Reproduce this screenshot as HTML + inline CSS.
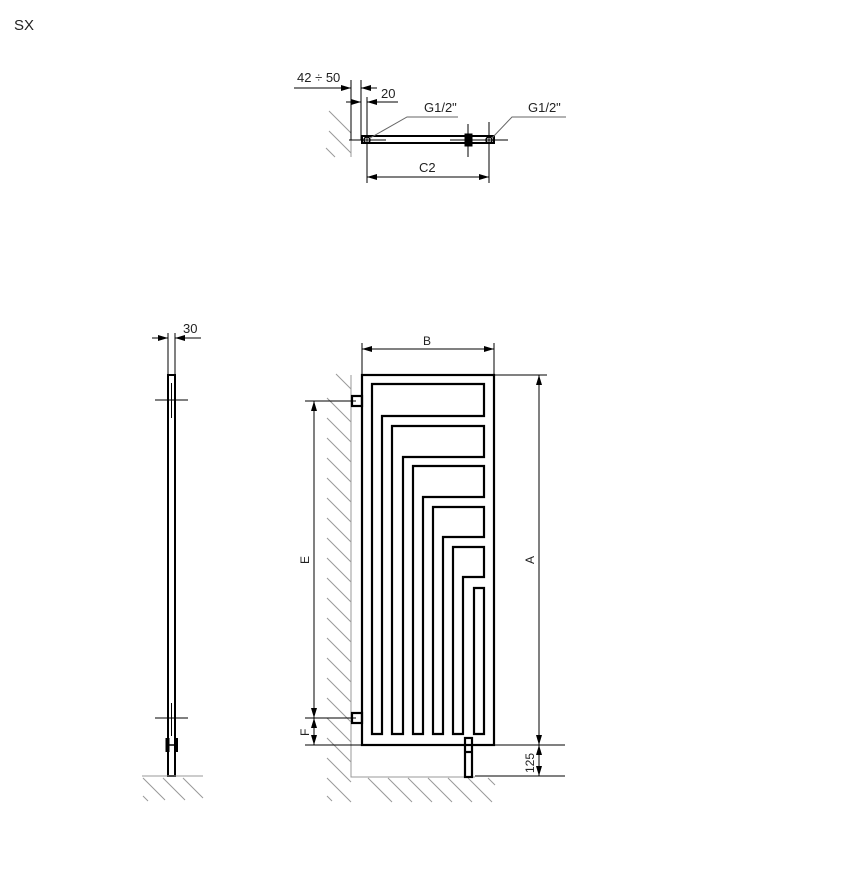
<!DOCTYPE html>
<html><head><meta charset="utf-8"><style>
html,body{margin:0;padding:0;background:#fff;}
svg{display:block;font-family:"Liberation Sans",sans-serif;}
</style></head><body>
<svg width="851" height="880" viewBox="0 0 851 880" xmlns="http://www.w3.org/2000/svg">
<defs>
<marker id="ar" markerWidth="10" markerHeight="6" refX="10" refY="3" orient="auto-start-reverse" markerUnits="userSpaceOnUse"><path d="M0,0 L10,3 L0,6 z" fill="#000"/></marker>
</defs>
<text x="14" y="30" font-size="15" fill="#222">SX</text>

<!-- TOP VIEW -->
<g stroke="#999" stroke-width="1" fill="none">
<line x1="351" y1="125" x2="351" y2="157"/>
<line x1="329" y1="111" x2="351" y2="133"/>
<line x1="329" y1="131" x2="351" y2="153"/>
<line x1="326" y1="148" x2="335" y2="157"/>
</g>
<g stroke="#000" fill="none">
<rect x="362" y="136" width="132" height="7" stroke-width="2"/>
<line x1="349" y1="140" x2="386" y2="140" stroke-width="1"/>
<line x1="450" y1="140" x2="508" y2="140" stroke-width="1"/>
<circle cx="367" cy="140" r="3" stroke-width="1.5"/>
<circle cx="489" cy="140" r="3" stroke-width="1.5"/>
<rect x="465" y="134" width="7" height="12" fill="#000"/>
<line x1="468" y1="124" x2="468" y2="157" stroke-width="1"/>
<line x1="489" y1="122" x2="489" y2="183" stroke-width="1"/>
<line x1="367" y1="97" x2="367" y2="183" stroke-width="1"/>
<line x1="351" y1="80" x2="351" y2="140" stroke-width="1"/>
<line x1="361" y1="80" x2="361" y2="140" stroke-width="1"/>
<line x1="294" y1="88" x2="351" y2="88" stroke-width="1" marker-end="url(#ar)"/>
<line x1="377" y1="88" x2="361" y2="88" stroke-width="1" marker-end="url(#ar)"/>
<line x1="346" y1="102" x2="361" y2="102" stroke-width="1" marker-end="url(#ar)"/>
<line x1="398" y1="102" x2="367" y2="102" stroke-width="1" marker-end="url(#ar)"/>
<line x1="367" y1="177" x2="489" y2="177" stroke-width="1" marker-start="url(#ar)" marker-end="url(#ar)"/>
</g>
<g stroke="#666" stroke-width="1" fill="none">
<polyline points="370,138 407,117 458,117"/>
<polyline points="492,138 512,117 566,117"/>
</g>
<g font-size="13" fill="#222">
<text x="297" y="82">42 ÷ 50</text>
<text x="381" y="98">20</text>
<text x="424" y="112">G1/2"</text>
<text x="528" y="112">G1/2"</text>
<text x="419" y="172">C2</text>
</g>

<!-- SIDE VIEW -->
<g stroke="#000" fill="none">
<line x1="168" y1="333" x2="168" y2="375" stroke-width="1"/>
<line x1="175" y1="333" x2="175" y2="375" stroke-width="1"/>
<line x1="152" y1="338" x2="168" y2="338" stroke-width="1" marker-end="url(#ar)"/>
<line x1="201" y1="338" x2="175" y2="338" stroke-width="1" marker-end="url(#ar)"/>
<rect x="168" y="375" width="7" height="401" stroke-width="2"/>
<line x1="171.5" y1="383" x2="171.5" y2="418" stroke-width="1"/>
<line x1="171.5" y1="703" x2="171.5" y2="736" stroke-width="1"/>
<line x1="155" y1="400" x2="188" y2="400" stroke-width="1"/>
<line x1="155" y1="718" x2="188" y2="718" stroke-width="1"/>
<rect x="165.5" y="738" width="4" height="14" fill="#000" stroke="none"/>
<rect x="174" y="738" width="4" height="14" fill="#000" stroke="none"/>
<line x1="168" y1="745" x2="175" y2="745" stroke-width="1.5"/>
</g>
<text x="183" y="333" font-size="13" fill="#222">30</text>
<g stroke="#999" stroke-width="1">
<line x1="142" y1="776" x2="203" y2="776"/>
<line x1="143" y1="778" x2="165" y2="800"/>
<line x1="163" y1="778" x2="185" y2="800"/>
<line x1="183" y1="778" x2="203" y2="798"/>
<line x1="143" y1="796" x2="148" y2="801"/>
</g>

<!-- FRONT VIEW: wall/floor -->
<g stroke="#999" stroke-width="1" fill="none">
<polyline points="351,375 351,777 475,777"/>
<line x1="336" y1="374" x2="351" y2="389"/>
<line x1="327" y1="398" x2="351" y2="422"/>
<line x1="327" y1="418" x2="351" y2="442"/>
<line x1="327" y1="438" x2="351" y2="462"/>
<line x1="327" y1="458" x2="351" y2="482"/>
<line x1="327" y1="478" x2="351" y2="502"/>
<line x1="327" y1="498" x2="351" y2="522"/>
<line x1="327" y1="518" x2="351" y2="542"/>
<line x1="327" y1="538" x2="351" y2="562"/>
<line x1="327" y1="558" x2="351" y2="582"/>
<line x1="327" y1="578" x2="351" y2="602"/>
<line x1="327" y1="598" x2="351" y2="622"/>
<line x1="327" y1="618" x2="351" y2="642"/>
<line x1="327" y1="638" x2="351" y2="662"/>
<line x1="327" y1="658" x2="351" y2="682"/>
<line x1="327" y1="678" x2="351" y2="702"/>
<line x1="327" y1="698" x2="351" y2="722"/>
<line x1="327" y1="718" x2="351" y2="742"/>
<line x1="327" y1="738" x2="351" y2="762"/>
<line x1="327" y1="758" x2="351" y2="782"/>
<line x1="327" y1="778" x2="351" y2="802"/>
<line x1="327" y1="796" x2="332" y2="801"/>
<line x1="368" y1="778" x2="392" y2="802"/>
<line x1="388" y1="778" x2="412" y2="802"/>
<line x1="408" y1="778" x2="432" y2="802"/>
<line x1="428" y1="778" x2="452" y2="802"/>
<line x1="448" y1="778" x2="472" y2="802"/>
<line x1="468" y1="778" x2="492" y2="802"/>
<line x1="488" y1="778" x2="495" y2="785"/>
</g>

<!-- radiator -->
<g stroke="#000" stroke-width="2.2" fill="none">
<rect x="362" y="375" width="132" height="370"/>
<polygon points="372,734 372,384 484,384 484,416 382,416 382,734"/>
<polygon points="392,734 392,426 484,426 484,457 403,457 403,734"/>
<polygon points="413,734 413,466 484,466 484,497 423,497 423,734"/>
<polygon points="433,734 433,507 484,507 484,537 443,537 443,734"/>
<polygon points="453,734 453,547 484,547 484,577 463,577 463,734"/>
<polygon points="474,734 474,588 484,588 484,734"/>
<rect x="352" y="396" width="10" height="10"/>
<rect x="352" y="713" width="10" height="10"/>
<rect x="465" y="738" width="7" height="39"/>
<line x1="465" y1="752" x2="472" y2="752"/>
</g>

<!-- dimensions -->
<g stroke="#000" stroke-width="1" fill="none">
<line x1="362" y1="343" x2="362" y2="375"/>
<line x1="494" y1="343" x2="494" y2="375"/>
<line x1="362" y1="349" x2="494" y2="349" marker-start="url(#ar)" marker-end="url(#ar)"/>
<line x1="494" y1="375" x2="547" y2="375"/>
<line x1="475" y1="745" x2="565" y2="745"/>
<line x1="475" y1="776" x2="565" y2="776"/>
<line x1="539" y1="375" x2="539" y2="745" marker-start="url(#ar)" marker-end="url(#ar)"/>
<line x1="539" y1="745" x2="539" y2="776" marker-start="url(#ar)" marker-end="url(#ar)"/>
<line x1="305" y1="401" x2="356" y2="401"/>
<line x1="305" y1="718" x2="356" y2="718"/>
<line x1="305" y1="745" x2="362" y2="745"/>
<line x1="314" y1="401" x2="314" y2="718" marker-start="url(#ar)" marker-end="url(#ar)"/>
<line x1="314" y1="718" x2="314" y2="745" marker-start="url(#ar)" marker-end="url(#ar)"/>
</g>
<g font-size="12" fill="#222">
<text x="423" y="345">B</text>
<text transform="translate(534,564) rotate(-90)">A</text>
<text transform="translate(309,564) rotate(-90)">E</text>
<text transform="translate(309,736) rotate(-90)">F</text>
<text transform="translate(534,773) rotate(-90)">125</text>
</g>
</svg>
</body></html>
